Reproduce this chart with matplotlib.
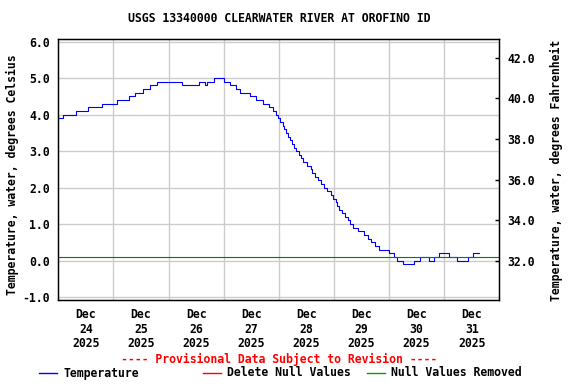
import pandas as pd
import numpy as np
import matplotlib
matplotlib.use('Agg')
import matplotlib.pyplot as plt
from matplotlib.lines import Line2D

plt.rcParams['font.family'] = 'DejaVu Sans Mono'
plt.rcParams['font.weight'] = 'bold'
FS = 8.3

title = 'USGS 13340000 CLEARWATER RIVER AT OROFINO ID'
start = pd.Timestamp('2025-12-24 00:00')

# change points: days after Dec 24 00:00, temperature in deg C
step_days = [0.00, 0.09, 0.32, 0.53, 0.79, 1.06, 1.28, 1.39, 1.53, 1.67,
             1.79, 2.24, 2.55, 2.67, 2.70, 2.82, 3.00, 3.11, 3.23, 3.30,
             3.47, 3.58, 3.71, 3.83, 3.89, 3.95, 3.99, 4.03, 4.07, 4.10,
             4.13, 4.16, 4.21, 4.24, 4.27, 4.31, 4.36, 4.40, 4.43, 4.52,
             4.58, 4.61, 4.66, 4.71, 4.77, 4.82, 4.87, 4.94, 4.98, 5.03,
             5.06, 5.10, 5.14, 5.20, 5.26, 5.30, 5.35, 5.44, 5.54, 5.61,
             5.67, 5.75, 5.81, 6.00, 6.09, 6.14, 6.26, 6.46, 6.56, 6.73,
             6.81, 6.91, 7.09, 7.23, 7.44, 7.52, 7.64]
step_temp = [3.9, 4.0, 4.1, 4.2, 4.3, 4.4, 4.5, 4.6, 4.7, 4.8,
             4.9, 4.8, 4.9, 4.8, 4.9, 5.0, 4.9, 4.8, 4.7, 4.6,
             4.5, 4.4, 4.3, 4.2, 4.1, 4.0, 3.9, 3.8, 3.7, 3.6,
             3.5, 3.4, 3.3, 3.2, 3.1, 3.0, 2.9, 2.8, 2.7, 2.6,
             2.5, 2.4, 2.3, 2.2, 2.1, 2.0, 1.9, 1.8, 1.7, 1.6,
             1.5, 1.4, 1.3, 1.2, 1.1, 1.0, 0.9, 0.8, 0.7, 0.6,
             0.5, 0.4, 0.3, 0.2, 0.1, 0.0, -0.1, 0.0, 0.1, 0.0,
             0.1, 0.2, 0.1, 0.0, 0.1, 0.2, 0.2]

ref_level = 0.1   # green horizontal line

day_labels = ['24', '25', '26', '27', '28', '29', '30', '31']

times = start + pd.to_timedelta(step_days, unit='D')

fig = plt.figure(figsize=(5.76, 3.84), dpi=100)
ax = fig.add_axes([58.3/576, 1 - 300/384, (499.3-58.3)/576, (300-39.3)/384])

ax.plot(times, step_temp, drawstyle='steps-post', color='#0000ff', lw=0.8, zorder=3)
ax.axhline(ref_level, color='#008000', lw=0.8, zorder=4)

ymin, ymax = -1.08, 6.066
ax.set_ylim(ymin, ymax)
ax.set_xlim(start, start + pd.Timedelta(days=8))

ax.set_yticks(np.arange(-1, 6.5, 1.0))
ax.set_yticklabels(['%.1f' % v for v in np.arange(-1, 6.5, 1.0)], fontsize=FS, fontweight='bold')
ax.tick_params(axis='y', length=0, pad=6)

# gridlines at midnight, labels at noon
ax.set_xticks([start + pd.Timedelta(days=d) for d in range(1, 8)])
ax.set_xticklabels([])
ax.set_xticks([start + pd.Timedelta(days=d + 0.5) for d in range(8)], minor=True)
ax.set_xticklabels(['Dec\n%s\n2025' % d for d in day_labels], minor=True,
                   fontsize=FS, fontweight='bold', linespacing=1.15)
ax.tick_params(axis='x', which='both', length=0, pad=6)

ax.grid(True, which='major', color='#cccccc', lw=1.0)
ax.set_axisbelow(True)
for s in ax.spines.values():
    s.set_linewidth(1.0)

ax2 = ax.twinx()
ax2.set_ylim(ymin*9/5 + 32, ymax*9/5 + 32)
fticks = np.arange(32, 43, 2.0)
ax2.set_yticks(fticks)
ax2.set_yticklabels(['%.1f' % v for v in fticks], fontsize=FS, fontweight='bold')
ax2.tick_params(axis='y', direction='in', length=3, width=1, pad=6)

fig.text(0.5 * (58.3 + 499.3) / 576, 1 - 19/384, title, ha='center', va='center',
         fontsize=FS, fontweight='bold')
fig.text(12/576, 1 - 175/384, 'Temperature, water, degrees Celsius', rotation=90,
         ha='center', va='center', fontsize=FS, fontweight='bold')
fig.text(556/576, 1 - 170/384, 'Temperature, water, degrees Fahrenheit', rotation=90,
         ha='center', va='center', fontsize=FS, fontweight='bold')
fig.text(0.5 * (58.3 + 499.3) / 576, 1 - 359/384,
         '---- Provisional Data Subject to Revision ----', ha='center', va='center',
         fontsize=FS, fontweight='bold', color='#ff0000')

legend_items = [('Temperature', '#0000ff', 39), ('Delete Null Values', '#ff0000', 203),
                ('Null Values Removed', '#00a000', 367)]
ly = 1 - 373/384
for name, col, x0 in legend_items:
    fig.add_artist(Line2D([x0/576, (x0+18)/576], [ly, ly], color=col, lw=1.0))
    fig.text((x0+24)/576, ly, name, ha='left', va='center', fontsize=FS, fontweight='bold')

fig.savefig('out.png', dpi=100)
